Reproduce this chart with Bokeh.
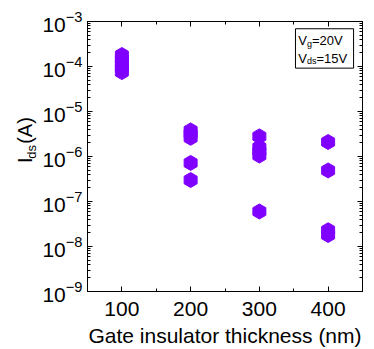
import math
from bokeh.plotting import figure
from bokeh.layouts import row
from bokeh.models import (LogAxis, LinearAxis, FixedTicker, LogTicker, Label,
                          BoxAnnotation, CustomJSTickFormatter, Range1d)
from bokeh.embed import file_html
from bokeh.resources import INLINE

# Data
thickness_nm = [100, 100, 100, 100, 100,
                200, 200, 200, 200, 200,
                300, 300, 300, 300, 300,
                400, 400, 400, 400]
ids_A = [1.8e-4, 1.45e-4, 1.15e-4, 9.5e-5, 7.5e-5,
         3.8e-6, 3.2e-6, 2.6e-6, 7.2e-7, 3.0e-7,
         2.8e-6, 1.6e-6, 1.3e-6, 1.05e-6, 6.0e-8,
         2.1e-6, 4.9e-7, 2.3e-8, 1.8e-8]
x_ticks = [100, 200, 300, 400]
x_minor_ticks = [150, 250, 350]
x_title = "Gate insulator thickness (nm)"

FONT = "Liberation Sans"
PURPLE = "#8000FF"
H = 349
W_MAIN = 336

p = figure(width=W_MAIN, height=H, x_range=(50, 450),
           y_range=(1e-9, 1e-3), y_axis_type="log", output_backend="svg",
           toolbar_location=None, min_border_left=49, min_border_right=12,
           min_border_top=21, min_border_bottom=54)
p.grid.visible = False
p.outline_line_color = "black"
p.outline_line_width = 1
p.background_fill_color = "white"
p.border_fill_color = "white"

p.scatter(thickness_nm, ids_A, marker="hex", size=15, angle=math.pi / 2,
          fill_color=PURPLE, line_color=PURPLE)

xt = FixedTicker(ticks=x_ticks, minor_ticks=x_minor_ticks)

def style_axis(ax):
    ax.axis_line_color = "black"
    ax.major_tick_line_color = "black"
    ax.minor_tick_line_color = "black"
    ax.major_tick_in = 5
    ax.major_tick_out = 0
    ax.minor_tick_in = 3
    ax.minor_tick_out = 0

xa = p.xaxis[0]
xa.ticker = xt
style_axis(xa)
xa.major_label_text_font = FONT
xa.major_label_text_font_size = "21px"
xa.major_label_text_color = "black"
xa.major_label_standoff = 10
xa.axis_label = x_title
xa.axis_label_text_font = FONT
xa.axis_label_text_font_size = "21px"
xa.axis_label_text_font_style = "normal"
xa.axis_label_text_color = "black"
xa.axis_label_standoff = 5

ya = p.yaxis[0]
ya.ticker = LogTicker(num_minor_ticks=10)
style_axis(ya)
ya.major_label_text_font = FONT
ya.major_label_text_font_size = "21px"
ya.major_label_text_color = "black"
ya.major_label_standoff = 5

blank = CustomJSTickFormatter(code="return ''")
top = LinearAxis(ticker=xt, formatter=blank, major_label_text_font_size="1px",
                 major_label_standoff=0)
style_axis(top)
p.add_layout(top, "above")
right = LogAxis(ticker=LogTicker(num_minor_ticks=10), formatter=blank,
                major_label_text_font_size="1px", major_label_standoff=0)
style_axis(right)
p.add_layout(right, "right")

# annotation box
p.add_layout(BoxAnnotation(left=352.5, right=437, top=6.9e-4, bottom=9.2e-5,
                           fill_color="white", fill_alpha=1.0,
                           line_color="black", line_width=1, line_alpha=1.0))
for txt, size, xo, yv, yo in [("V", "13px", 0, 3.7e-4, 0),
                              ("g", "9px", 8.7, 3.7e-4, -3),
                              ("=20V", "13px", 13.7, 3.7e-4, 0),
                              ("V", "13px", 0, 1.52e-4, 0),
                              ("ds", "9px", 8.7, 1.52e-4, -3),
                              ("=15V", "13px", 18.2, 1.52e-4, 0)]:
    p.add_layout(Label(x=356.5, y=yv, text=txt, x_offset=xo, y_offset=yo,
                       text_font=FONT, text_font_size=size,
                       text_color="black", text_align="left",
                       text_baseline="alphabetic"))

# narrow side strip carrying the rotated y-axis title: I_ds (A)
q = figure(width=38, height=H, x_range=Range1d(0, 38), y_range=Range1d(0, H),
           output_backend="svg", toolbar_location=None,
           x_axis_location=None, y_axis_location=None,
           min_border_left=0, min_border_right=0, min_border_top=0,
           min_border_bottom=0)
q.grid.visible = False
q.outline_line_color = None
q.background_fill_color = "white"
q.border_fill_color = "white"
for txt, size, xx, yy in [("I", "20px", 24, 166),
                          ("ds", "13px", 31, 171.6),
                          ("(A)", "20px", 24, 190.9)]:
    q.add_layout(Label(x=xx, y=yy, text=txt, angle=math.pi / 2,
                       text_font=FONT, text_font_size=size,
                       text_color="black", text_align="left",
                       text_baseline="alphabetic"))

layout = row(q, p, spacing=0)
open("out.html", "w").write(file_html(layout, INLINE))
